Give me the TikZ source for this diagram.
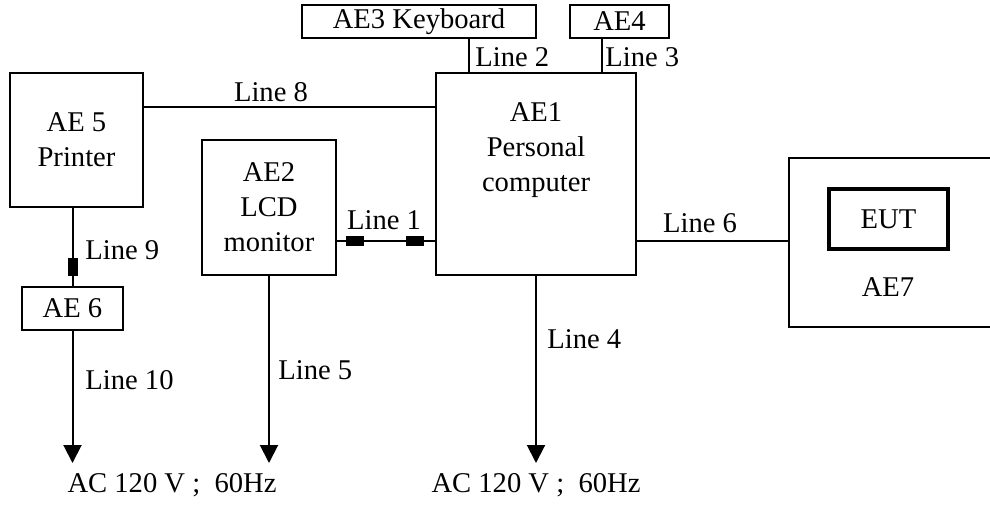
\documentclass[tikz,border=0pt]{standalone}
\usepackage{fontspec}
\setmainfont{Liberation Serif}
\usetikzlibrary{arrows.meta,positioning}

\tikzset{
        unit/.style={draw, line width=1pt, inner sep=0pt, align=center},
        wire/.style={line width=1pt},
        feed/.style={line width=1pt, -{Triangle[length=9pt,width=9pt]}},
        hplug/.style={fill, inner sep=0pt, minimum width=9pt, minimum height=5pt},
        vplug/.style={fill, inner sep=0pt, minimum width=5pt, minimum height=9pt},
        tag/.style={inner sep=0pt}
}

\begin{document}
\begin{tikzpicture}[x=0.5pt, y=-0.5pt, font=\fontsize{14.3}{17.5}\selectfont]

        \useasboundingbox (0,0) rectangle (990,504);

        \node[unit, minimum width=66.5pt, minimum height=67pt] (printer) at (76.5,140) {AE 5\\Printer};
        \node[unit, minimum width=50.5pt, minimum height=21.5pt] (ae6) at (72.5,308.5) {AE 6};
        \node[unit, minimum width=67pt, minimum height=67.5pt] (lcd) at (269,207.5) {AE2\\LCD\\monitor};
        \node[unit, minimum width=100pt, minimum height=101pt] (pc) at (536,174) {};
        \node[tag, align=center] (pctext) at (536,150) {AE1\\Personal\\computer};
        \node[unit, minimum width=117pt, minimum height=16.5pt] (kbd) at (419,21.5) {AE3 Keyboard};
        \node[unit, minimum width=49.5pt, minimum height=16.5pt] (ae4) at (619.5,21.5) {AE4};
        \node[unit, line width=1.6pt, minimum width=59.5pt, minimum height=30pt] (eut) at (888.5,219) {EUT};
        \node[tag] (ae7) at (888,287) {AE7};

        \coordinate (ae7ne) at (991,158);
        \coordinate (ae7nw) at (789,158);
        \coordinate (ae7sw) at (789,327);
        \coordinate (ae7se) at (991,327);
        \draw[wire] (ae7ne) -- (ae7nw) -- (ae7sw) -- (ae7se);

        \coordinate (x2) at (469,0);
        \coordinate (x3) at (602,0);
        \coordinate (y1) at (0,241);
        \coordinate (y8) at (0,107);
        \coordinate (tip) at (0,463);

        \draw[wire] (kbd.south -| x2) -- (pc.north -| x2);
        \draw[wire] (ae4.south -| x3) -- (pc.north -| x3);
        \draw[wire] (printer.east |- y8) -- (pc.west |- y8);
        \draw[wire] (lcd.east |- y1) -- (pc.west |- y1);
        \draw[wire] (pc.east |- y1) -- (ae7nw |- y1);
        \draw[wire] (printer.south -| ae6.north) -- (ae6.north);

        \node[hplug] (plug1a) at (355,241) {};
        \node[hplug] (plug1b) at (415,241) {};
        \node[vplug] (plug9) at (72.5,267) {};

        \draw[feed] (ae6.south) -- (ae6.south |- tip);
        \draw[feed] (lcd.south) -- (lcd.south |- tip);
        \draw[feed] (pc.south) -- (pc.south |- tip);

        \node[tag] (mains1) at (172,485) {AC 120 V ;~~60Hz};
        \node[tag] (mains2) at (536,485) {AC 120 V ;~~60Hz};

        \node[tag, anchor=west] (lab2) at (475,57) {Line 2};
        \node[tag, anchor=west] (lab3) at (605,57) {Line 3};
        \node[tag] (lab8) at (271,92) {Line 8};
        \node[tag, anchor=west] (lab9) at (85,250) {Line 9};
        \node[tag, anchor=west] (lab10) at (85,380) {Line 10};
        \node[tag] (lab1) at (384,220) {Line 1};
        \node[tag, anchor=west] (lab5) at (278,370) {Line 5};
        \node[tag, anchor=west] (lab4) at (547,339) {Line 4};
        \node[tag] (lab6) at (700,223) {Line 6};

\end{tikzpicture}
\end{document}
